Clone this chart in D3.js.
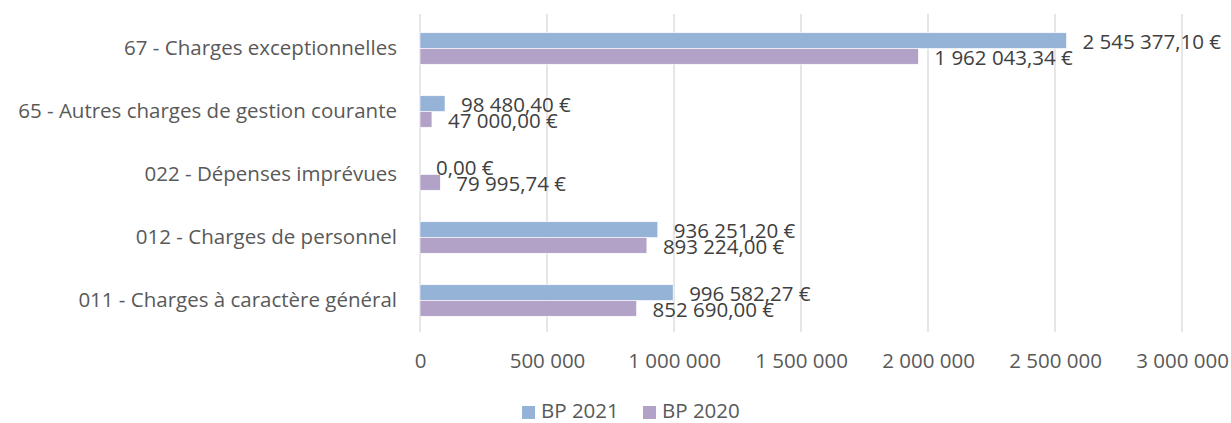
<!DOCTYPE html>
<html>
<head>
<meta charset="utf-8">
<script src="https://cdn.jsdelivr.net/npm/d3@7"></script>
<style>
  body { margin: 0; background: #fff; }
  svg { font-family: "Open Sans", sans-serif; }
</style>
</head>
<body>
<div class="chart"></div>
<script>
// categories from top to bottom
const categories = [
  '67 - Charges exceptionnelles',
  '65 - Autres charges de gestion courante',
  '022 - Dépenses imprévues',
  '012 - Charges de personnel',
  '011 - Charges à caractère général'
];
const seriesNames = ['BP 2021', 'BP 2020'];
const bp2021 = [2545377.10, 98480.40, 0, 936251.20, 996582.27];
const bp2020 = [1962043.34, 47000.00, 79995.74, 893224.00, 852690.00];
const xTicks = [0, 500000, 1000000, 1500000, 2000000, 2500000, 3000000];
const colors = ['#95b3d7', '#b3a2c7'];

const w = 1231, h = 423;
const plotLeft = 420, plotRight = 1182, plotTop = 17, plotBottom = 332;
const fontSize = '20.5px';

const fr = d3.formatLocale({ decimal: ',', thousands: ' ', grouping: [3], currency: ['', ' €'] });
const fmtTick = fr.format(',.0f');
const fmtLabel = fr.format('$,.2f');

const rows = categories.map((c, i) => ({ cat: c, vals: [bp2021[i], bp2020[i]] }));

const xScale = d3.scaleLinear().domain([0, 3000000]).range([plotLeft, plotRight]);
const yScale = d3.scaleBand().domain(categories).range([plotTop, plotBottom])
  .paddingInner(0.5).paddingOuter(0.25);
const ySub = d3.scaleBand().domain(seriesNames).range([0, yScale.bandwidth()]);

const svg = d3.select('.chart').append('svg')
  .attr('width', w).attr('height', h);

// gridlines
svg.append('g')
  .selectAll('line')
  .data(xTicks)
  .join('line')
  .attr('x1', d => xScale(d)).attr('x2', d => xScale(d))
  .attr('y1', plotTop - 3).attr('y2', plotBottom)
  .attr('stroke', '#d9d9d9').attr('stroke-width', 1.3);

// x axis labels
const xAxis = d3.axisBottom(xScale).tickValues(xTicks).tickFormat(fmtTick).tickSize(0).tickPadding(21);
svg.append('g')
  .attr('transform', `translate(0, ${plotBottom})`)
  .call(xAxis)
  .call(g => g.select('.domain').remove())
  .call(g => g.selectAll('text').attr('fill', '#595959').style('font-size', fontSize).style('font-family', '"Open Sans", sans-serif'));

// y axis labels
const yAxis = d3.axisLeft(yScale).tickSize(0).tickPadding(23);
svg.append('g')
  .attr('transform', `translate(${plotLeft}, 0)`)
  .call(yAxis)
  .call(g => g.select('.domain').remove())
  .call(g => g.selectAll('text').attr('fill', '#595959').style('font-size', fontSize).style('font-family', '"Open Sans", sans-serif'));

// bars
const groups = svg.append('g')
  .selectAll('g')
  .data(rows)
  .join('g')
  .attr('transform', d => `translate(0, ${yScale(d.cat)})`);

groups.selectAll('rect')
  .data(d => d.vals.map((v, i) => ({ name: seriesNames[i], v, i })))
  .join('rect')
  .attr('x', xScale(0))
  .attr('y', d => ySub(d.name))
  .attr('width', d => xScale(d.v) - xScale(0))
  .attr('height', ySub.bandwidth())
  .attr('fill', d => colors[d.i])
  .attr('stroke', '#fff').attr('stroke-width', 0.6);

groups.selectAll('text')
  .data(d => d.vals.map((v, i) => ({ name: seriesNames[i], v, i })))
  .join('text')
  .attr('x', d => xScale(d.v) + 16)
  .attr('y', d => ySub(d.name) + ySub.bandwidth() / 2 + 1)
  .attr('dy', '0.35em')
  .attr('fill', '#404040')
  .style('font-size', fontSize)
  .text(d => fmtLabel(d.v));

// legend
const legend = svg.append('g').attr('transform', 'translate(522, 411)');
const legX = [0, 121];
seriesNames.forEach((s, i) => {
  const g = legend.append('g').attr('transform', `translate(${legX[i]}, 0)`);
  g.append('rect').attr('x', 0).attr('y', -5).attr('width', 13).attr('height', 13).attr('fill', colors[i]);
  g.append('text').attr('x', 19).attr('y', 0).attr('dy', '0.35em')
    .attr('fill', '#595959').style('font-size', fontSize).text(s);
});
</script>
</body>
</html>
